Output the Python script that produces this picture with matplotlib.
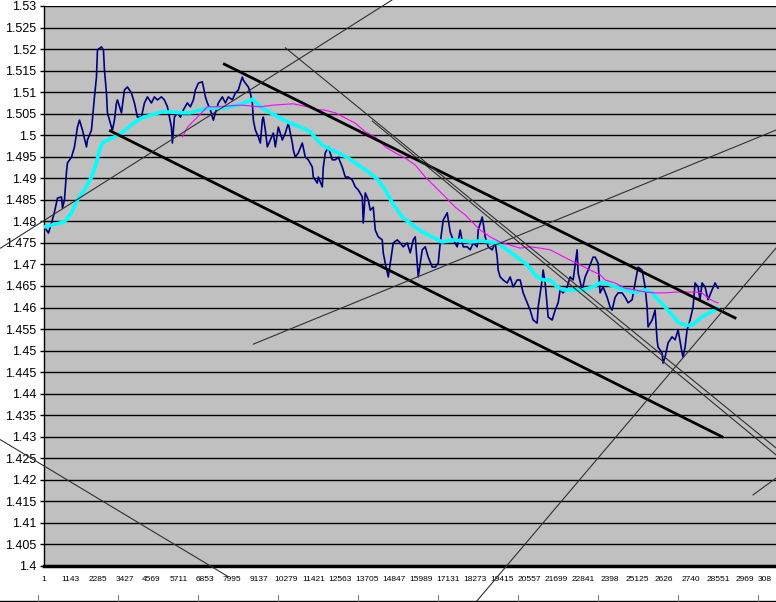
import matplotlib
matplotlib.use('Agg')
import matplotlib.pyplot as plt
import numpy as np
from matplotlib.lines import Line2D

plt.rcParams['font.family'] = ['Liberation Sans', 'DejaVu Sans']

# ---------------- data ----------------
x_tick_pos = [1 + 1142 * k for k in range(28)]
x_tick_labels = ["1", "1143", "2285", "3427", "4569", "5711", "6853", "7995", "9137",
                 "10279", "11421", "12563", "13705", "14847", "15989", "17131", "18273",
                 "19415", "20557", "21699", "22841", "2398", "25125", "2626", "2740",
                 "28551", "2969", "308"]

blue_idx = [43, 211, 339, 466, 593, 762, 805, 889, 974, 1016, 1185, 1312, 1439, 1524, 1650,
            1820, 1862, 2031, 2158, 2243, 2285, 2454, 2539, 2581, 2666, 2708, 2877, 2919,
            3004, 3089, 3131, 3300, 3427, 3554, 3723, 3850, 3977, 4146, 4273, 4400, 4569,
            4696, 4823, 4992, 5119, 5246, 5415, 5457, 5542, 5669, 5796, 5922, 6091, 6218,
            6345, 6430, 6557, 6726, 6768, 6853, 6937, 7064, 7149, 7191, 7276, 7403, 7572,
            7699, 7826, 7995, 8122, 8249, 8333, 8418, 8460, 8545, 8672, 8756, 8841, 8883,
            8968, 9095, 9179, 9264, 9306, 9391, 9475, 9602, 9729, 9814, 9941, 10110, 10237,
            10364, 10533, 10575, 10660, 10787, 10956, 11083, 11210, 11379, 11421, 11506,
            11590, 11633, 11802, 11844, 11929, 12056, 12225, 12352, 12479, 12648, 12775,
            12902, 13071, 13198, 13325, 13494, 13536, 13621, 13748, 13832, 13959, 14044,
            14171, 14340, 14382, 14467, 14594, 14678, 14805, 14974, 15101, 15228, 15397,
            15524, 15651, 15736, 15863, 16032, 16159, 16286, 16455, 16582, 16709, 16793,
            16920, 17089, 17216, 17343, 17512, 17639, 17766, 17935, 18062, 18189, 18358,
            18401, 18570, 18612, 18697, 18824, 18993, 19120, 19204, 19247, 19331, 19458,
            19627, 19754, 19881, 20050, 20177, 20304, 20473, 20600, 20727, 20896, 20939,
            21108, 21150, 21235, 21362, 21531, 21658, 21785, 21869, 21996, 22165, 22292,
            22419, 22588, 22631, 22800, 22927, 23054, 23265, 23350, 23477, 23561, 23688,
            23857, 23984, 24069, 24196, 24323, 24492, 24619, 24746, 24915, 25042, 25169,
            25338, 25465, 25549, 25592, 25761, 25888, 25972, 26015, 26184, 26226, 26311,
            26438, 26607, 26734, 26861, 27030, 27072, 27157, 27241, 27368, 27495, 27580,
            27707, 27791, 27876, 28003, 28130, 28299, 28426, 28553]
blue_val = [1.4787, 1.4773, 1.4796, 1.4822, 1.4854, 1.4857, 1.4831, 1.4850, 1.4915, 1.4936,
            1.4949, 1.4973, 1.5019, 1.5035, 1.5012, 1.4973, 1.4989, 1.5012, 1.5089, 1.5135,
            1.5198, 1.5205, 1.5198, 1.5151, 1.5098, 1.5052, 1.5019, 1.5012, 1.5035, 1.5075,
            1.5082, 1.5052, 1.5105, 1.5112, 1.5098, 1.5075, 1.5042, 1.5042, 1.5075, 1.5089,
            1.5075, 1.5089, 1.5082, 1.5089, 1.5082, 1.5066, 1.5019, 1.4982, 1.5042, 1.5052,
            1.5042, 1.5059, 1.5075, 1.5066, 1.5082, 1.5105, 1.5121, 1.5124, 1.5112, 1.5089,
            1.5075, 1.5059, 1.5042, 1.5035, 1.5052, 1.5075, 1.5089, 1.5075, 1.5089, 1.5082,
            1.5098, 1.5105, 1.5121, 1.5135, 1.5128, 1.5121, 1.5112, 1.5098, 1.5075, 1.5035,
            1.5012, 1.4996, 1.4982, 1.5035, 1.5042, 1.5012, 1.4973, 1.4989, 1.5005, 1.4973,
            1.5019, 1.4989, 1.5005, 1.5028, 1.4982, 1.4966, 1.4949, 1.4959, 1.4982, 1.4949,
            1.4943, 1.4926, 1.4903, 1.4896, 1.4889, 1.4903, 1.4880, 1.4926, 1.4959, 1.4973,
            1.4943, 1.4943, 1.4949, 1.4926, 1.4903, 1.4903, 1.4896, 1.4880, 1.4873, 1.4857,
            1.4796, 1.4866, 1.4850, 1.4826, 1.4833, 1.4780, 1.4764, 1.4757, 1.4727, 1.4703,
            1.4671, 1.4703, 1.4750, 1.4757, 1.4750, 1.4741, 1.4750, 1.4727, 1.4757, 1.4764,
            1.4671, 1.4734, 1.4741, 1.4717, 1.4694, 1.4694, 1.4703, 1.4750, 1.4803, 1.4820,
            1.4775, 1.4757, 1.4741, 1.4780, 1.4741, 1.4741, 1.4734, 1.4750, 1.4741, 1.4780,
            1.4810, 1.4796, 1.4764, 1.4741, 1.4734, 1.4750, 1.4717, 1.4687, 1.4671, 1.4664,
            1.4657, 1.4671, 1.4648, 1.4664, 1.4664, 1.4634, 1.4611, 1.4594, 1.4571, 1.4564,
            1.4601, 1.4664, 1.4687, 1.4657, 1.4578, 1.4571, 1.4594, 1.4611, 1.4641, 1.4634,
            1.4648, 1.4671, 1.4664, 1.4734, 1.4680, 1.4641, 1.4671, 1.4687, 1.4717, 1.4717,
            1.4703, 1.4634, 1.4648, 1.4624, 1.4601, 1.4594, 1.4624, 1.4634, 1.4634, 1.4624,
            1.4611, 1.4618, 1.4657, 1.4694, 1.4687, 1.4648, 1.4601, 1.4555, 1.4571, 1.4594,
            1.4525, 1.4508, 1.4495, 1.4471, 1.4485, 1.4518, 1.4532, 1.4525, 1.4548, 1.4495,
            1.4485, 1.4508, 1.4548, 1.4571, 1.4601, 1.4657, 1.4648, 1.4618, 1.4657, 1.4648,
            1.4618, 1.4641, 1.4657, 1.4645]

cyan_idx = [43, 889, 1185, 1439, 1735, 2031, 2243, 2370, 2497, 2708, 3004, 3300, 3723, 4146,
            4569, 4992, 5415, 5796, 6218, 6641, 7064, 7614, 8206, 8629, 8841, 8968, 9179,
            9602, 10025, 10448, 10871, 11294, 11506, 11717, 11802, 12056, 12479, 12902,
            13325, 13748, 14171, 14467, 14763, 15186, 15609, 16032, 16455, 16878, 17301,
            17724, 18062, 18485, 18908, 19204, 19627, 20050, 20473, 20896, 21150, 21446,
            21742, 21996, 22419, 22842, 23265, 23561, 23773, 24196, 24619, 24915, 25169,
            25465, 25761, 26015, 26311, 26607, 26861, 27157, 27453, 27707, 28003, 28299, 28553]
cyan_val = [1.4787, 1.4799, 1.4820, 1.4850, 1.4873, 1.4903, 1.4936, 1.4966, 1.4982, 1.4989,
            1.4996, 1.5005, 1.5024, 1.5040, 1.5047, 1.5054, 1.5054, 1.5052, 1.5052, 1.5059,
            1.5063, 1.5063, 1.5070, 1.5077, 1.5084, 1.5077, 1.5066, 1.5052, 1.5040, 1.5028,
            1.5019, 1.5008, 1.4994, 1.4982, 1.4977, 1.4970, 1.4959, 1.4947, 1.4931, 1.4915,
            1.4896, 1.4873, 1.4843, 1.4810, 1.4792, 1.4775, 1.4764, 1.4752, 1.4757, 1.4755,
            1.4752, 1.4755, 1.4752, 1.4750, 1.4734, 1.4717, 1.4699, 1.4671, 1.4664, 1.4664,
            1.4648, 1.4641, 1.4641, 1.4641, 1.4648, 1.4657, 1.4657, 1.4648, 1.4641, 1.4636,
            1.4636, 1.4641, 1.4634, 1.4618, 1.4601, 1.4583, 1.4566, 1.4559, 1.4559, 1.4571,
            1.4583, 1.4590, 1.4599]

magenta_idx = [5880, 6100, 6515, 6937, 7361, 8333, 9179, 9729, 10575, 11167, 11506, 11844,
               12352, 12775, 13198, 13621, 14044, 14467, 14890, 15313, 15736, 16159, 16582,
               17005, 17428, 17851, 18062, 18485, 18908, 19331, 19754, 20177, 20600, 21023,
               21446, 21869, 22292, 22715, 23138, 23561, 23773, 24196, 24619, 25042, 25465,
               25888, 26311, 26734, 27157, 27580, 27876, 28130, 28426, 28553]
magenta_val = [1.4996, 1.5019, 1.5042, 1.5066, 1.5066, 1.5070, 1.5066, 1.5070, 1.5073, 1.5066,
               1.5059, 1.5059, 1.5052, 1.5040, 1.5028, 1.5008, 1.4996, 1.4973, 1.4959, 1.4947,
               1.4931, 1.4903, 1.4880, 1.4857, 1.4833, 1.4815, 1.4803, 1.4780, 1.4764, 1.4752,
               1.4745, 1.4738, 1.4741, 1.4738, 1.4734, 1.4722, 1.4710, 1.4699, 1.4687, 1.4676,
               1.4664, 1.4657, 1.4645, 1.4641, 1.4636, 1.4634, 1.4634, 1.4636, 1.4636, 1.4636,
               1.4634, 1.4622, 1.4613, 1.4611]

# hand-drawn trend lines (start index, start price, end index, end price)
thick_lines = [(7656, 1.5165, 29272, 1.4576),
               (2834, 1.5010, 28722, 1.4300)]
thin_lines = [(-1819, 1.4738, 14754, 1.5314),
              (10237, 1.5203, 31006, 1.4274),
              (13917, 1.5033, 31006, 1.4258),
              (8883, 1.4515, 31006, 1.5012),
              (-1819, 1.4293, 7826, 1.3975),
              (18316, 1.3917, 31006, 1.4738),
              (30033, 1.4165, 31006, 1.4204)]

y_ticks = list(np.round(np.arange(1.40, 1.5301, 0.005), 3))

# ---------------- figure ----------------
W, H = 776, 602
fig = plt.figure(figsize=(W / 100, H / 100), dpi=100)
fig.patch.set_facecolor('white')
ax = fig.add_axes([43.5 / W, (H - 566) / H, (W - 43.5) / W, 560 / H])
ax.set_facecolor('#C0C0C0')
ax.set_xlim(1, 31006)
ax.set_ylim(1.40, 1.53)

ax.set_yticks(y_ticks)
ax.set_yticklabels(['{:g}'.format(v) for v in y_ticks])
ax.set_xticks(x_tick_pos)
ax.set_xticklabels(x_tick_labels)
ax.tick_params(axis='y', direction='out', length=3, width=1, color='black',
               labelsize=9, pad=2)
ax.tick_params(axis='x', length=0, labelsize=6, pad=7)
last = ax.get_xticklabels()[-1]
last.set_horizontalalignment('right')

ax.set_axisbelow(True)
ax.yaxis.grid(True, color='black', linewidth=1)
ax.xaxis.grid(False)
for s in ['top', 'right']:
    ax.spines[s].set_visible(False)
ax.spines['left'].set_color('black')
ax.spines['left'].set_linewidth(1)
ax.spines['bottom'].set_color('black')
ax.spines['bottom'].set_linewidth(2.5)

ax.plot(blue_idx, blue_val, color='#000080', linewidth=1.2, zorder=3)
ax.plot(cyan_idx, cyan_val, color='#00FFFF', linewidth=2.6, zorder=4,
        solid_capstyle='round')
ax.plot(magenta_idx, magenta_val, color='#FF00FF', linewidth=0.8, zorder=5)

for x0, y0, x1, y1 in thick_lines:
    ax.plot([x0, x1], [y0, y1], color='black', linewidth=2.0, zorder=6,
            clip_on=False)
for x0, y0, x1, y1 in thin_lines:
    ax.plot([x0, x1], [y0, y1], color='#303030', linewidth=0.8, zorder=6,
            clip_on=False)

# worksheet cell border under the chart
fig.add_artist(Line2D([0, 1], [1.5 / H, 1.5 / H], transform=fig.transFigure,
                      color='black', linewidth=1))
for px in range(38, W, 80):
    fig.add_artist(Line2D([px / W, px / W], [0, 7 / H], transform=fig.transFigure,
                          color='#808080', linewidth=0.8))

fig.savefig('out.png', dpi=100, facecolor='white')
